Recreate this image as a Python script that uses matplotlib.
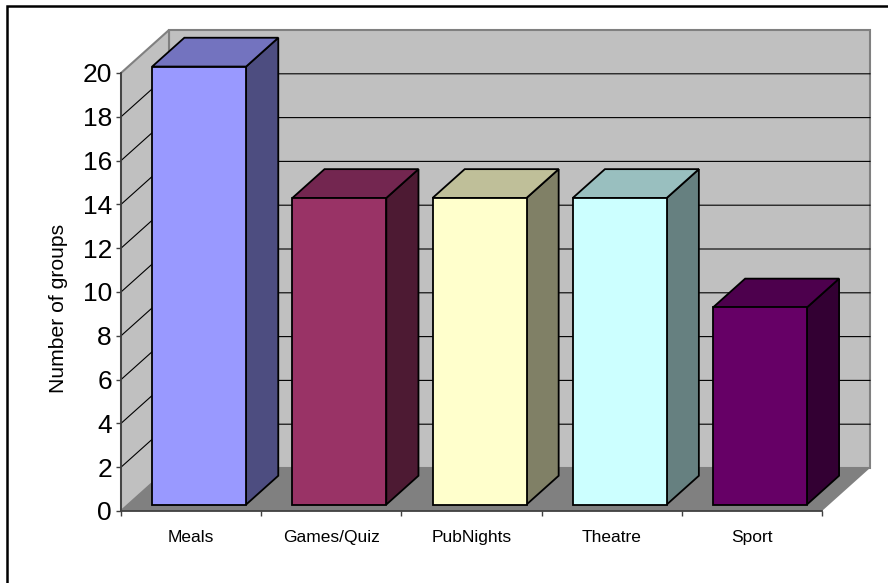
import numpy as np
import matplotlib
matplotlib.use('Agg')
import matplotlib.pyplot as plt
from matplotlib.lines import Line2D
from matplotlib.patches import Polygon

plt.rcParams['font.family'] = ['Liberation Sans', 'DejaVu Sans']

categories = ['Meals', 'Games/Quiz', 'PubNights', 'Theatre', 'Sport']
values = [20, 14, 14, 14, 9]
front_colors = ['#9999FF', '#993366', '#FFFFCC', '#CCFFFF', '#660066']
top_colors = ['#7373BF', '#732650', '#BFBF99', '#99BFBF', '#4D004D']
side_colors = ['#4D4D80', '#4D1A33', '#808066', '#668080', '#330033']
yticks = np.arange(0, 21, 2)

W, H = 888, 583
# front plane of the box in pixels
X0, X1, Y0, Y1 = 121, 822, 511, 73
# depth of the box, in data units
DX = 48 / ((X1 - X0) / 5)
DY = 43 / ((Y0 - Y1) / 20)
BAR_W = 0.67
BAR_SHIFT = 0.006
D0, D1 = 0.15, 0.82


def proj(x, y, d):
    return x + d * DX, y + d * DY


fig = plt.figure(figsize=(W / 100, H / 100), dpi=100)
ax = fig.add_axes([X0 / W, 1 - Y0 / H, (X1 - X0) / W, (Y0 - Y1) / H])
ax.set_xlim(0, 5)
ax.set_ylim(0, 20)
ax.patch.set_visible(False)
for s in ['top', 'right']:
    ax.spines[s].set_visible(False)
for s in ['left', 'bottom']:
    ax.spines[s].set_color('#404040')
    ax.spines[s].set_linewidth(1.3)
    ax.spines[s].set_zorder(5)

# walls and floor
back = [proj(0, 0, 1), proj(5, 0, 1), proj(5, 20, 1), proj(0, 20, 1)]
left = [proj(0, 0, 0), proj(0, 0, 1), proj(0, 20, 1), proj(0, 20, 0)]
floor = [proj(0, 0, 0), proj(5, 0, 0), proj(5, 0, 1), proj(0, 0, 1)]
kw = dict(clip_on=False, linewidth=1.5, edgecolor='#808080')
ax.add_patch(Polygon(back, facecolor='#C0C0C0', zorder=1, **kw))
ax.add_patch(Polygon(left, facecolor='#C0C0C0', zorder=1, **kw))
ax.add_patch(Polygon(floor, facecolor='#808080', zorder=1.5, clip_on=False,
                     linewidth=0))

# gridlines
for t in yticks[1:-1]:
    x_a, y_a = proj(0, t, 0)
    x_b, y_b = proj(0, t, 1)
    x_c, y_c = proj(5, t, 1)
    ax.plot([x_a, x_b, x_c], [y_a, y_b, y_c], color='black', lw=0.8,
            clip_on=False, zorder=2, solid_joinstyle='miter')

# bars
for i, v in enumerate(values):
    xl = i + 0.5 + BAR_SHIFT - BAR_W / 2
    xr = i + 0.5 + BAR_SHIFT + BAR_W / 2
    front = [proj(xl, 0, D0), proj(xr, 0, D0), proj(xr, v, D0), proj(xl, v, D0)]
    top = [proj(xl, v, D0), proj(xr, v, D0), proj(xr, v, D1), proj(xl, v, D1)]
    side = [proj(xr, 0, D0), proj(xr, 0, D1), proj(xr, v, D1), proj(xr, v, D0)]
    bar_kw = dict(edgecolor='black', linewidth=1.3, clip_on=False, zorder=3,
                  joinstyle='miter')
    ax.add_patch(Polygon(side, facecolor=side_colors[i], **bar_kw))
    ax.add_patch(Polygon(top, facecolor=top_colors[i], **bar_kw))
    ax.add_patch(Polygon(front, facecolor=front_colors[i], **bar_kw))

ax.set_yticks(yticks)
ax.tick_params(axis='y', length=3.5, width=1, color='#404040', pad=3,
               labelsize=19, labelcolor='black')
ax.set_xticks(np.arange(6))
ax.set_xticklabels([])
ax.tick_params(axis='x', which='major', length=3.5, width=1, color='#404040')
ax.set_xticks(np.arange(5) + 0.5, categories, minor=True)
ax.tick_params(axis='x', which='minor', length=0, pad=14, labelsize=12.5,
               labelcolor='black')
ax.set_ylabel('Number of groups', fontsize=15.2, color='black')
ax.yaxis.set_label_coords((68 - X0) / (X1 - X0), (Y0 - 308) / (Y0 - Y1))

# outer frame, only left and top edges are visible
fig.add_artist(Line2D([1, 7 / W, 7 / W], [1 - 6 / H, 1 - 6 / H, 0], color='black',
                      lw=1.8, solid_joinstyle='miter'))

fig.savefig('out.png', dpi=100)
